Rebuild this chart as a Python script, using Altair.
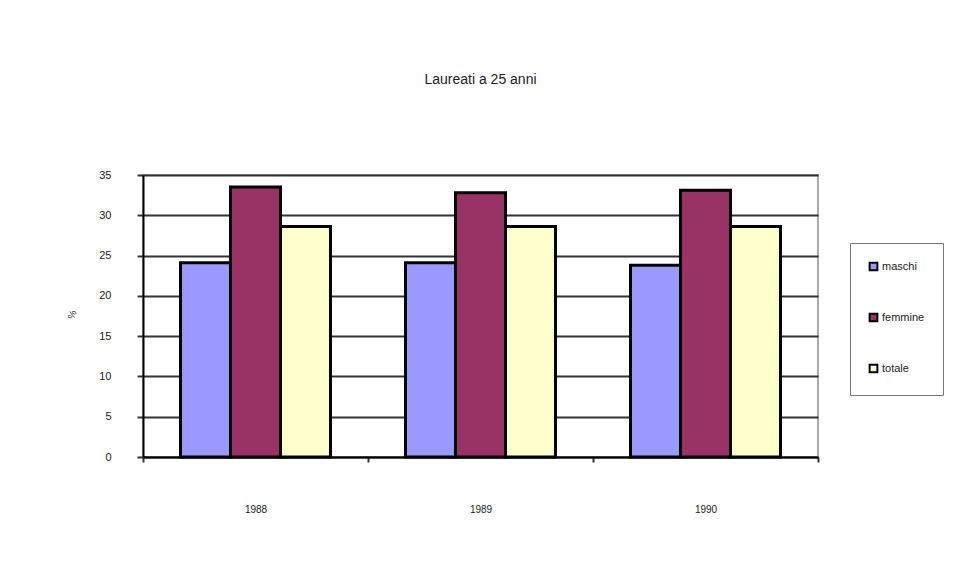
import altair as alt
import pandas as pd

years = ["1988", "1989", "1990"]
series = ["maschi", "femmine", "totale"]
maschi = [24.1, 24.1, 23.8]
femmine = [33.5, 32.8, 33.1]
totale = [28.6, 28.6, 28.6]
colors = ["#9999FF", "#993366", "#FFFFCC"]

rows = []
for i, y in enumerate(years):
    for s, vals in zip(series, [maschi, femmine, totale]):
        rows.append({"anno": y, "serie": s, "valore": vals[i]})
df = pd.DataFrame(rows)

FONT = "Liberation Sans"

chart = alt.Chart(df).mark_bar(stroke="black", strokeWidth=3).encode(
    x=alt.X("anno:N", sort=years, title=None,
            scale=alt.Scale(paddingInner=0, paddingOuter=0),
            axis=alt.Axis(labelAngle=0, labelPadding=42, tickBand="extent",
                          domainColor="black", domainWidth=2, tickColor="#333",
                          tickWidth=2, tickSize=5, labelFontSize=10,
                          labelColor="#222", labelFont=FONT, grid=False)),
    xOffset=alt.XOffset("serie:N", sort=series,
                        scale=alt.Scale(paddingInner=0, paddingOuter=0.75)),
    y=alt.Y("valore:Q", title="%",
            scale=alt.Scale(domain=[0, 35], nice=False),
            axis=alt.Axis(values=[0, 5, 10, 15, 20, 25, 30, 35], labelPadding=26,
                          tickSize=6, tickColor="#333", tickWidth=2,
                          domainColor="black", domainWidth=2,
                          gridColor="#333", gridWidth=2,
                          labelFontSize=11, labelColor="#222", labelFont=FONT,
                          titleFontSize=10, titleFontWeight="normal", titleColor="#444",
                          titleAngle=-70, titlePadding=22, titleFont=FONT)),
    color=alt.Color("serie:N", sort=series,
                    scale=alt.Scale(domain=series, range=colors),
                    legend=alt.Legend(title=None, orient="none", legendX=707, legendY=68,
                                      symbolType="square", symbolSize=60,
                                      symbolStrokeColor="black", symbolStrokeWidth=2,
                                      labelFontSize=11, labelFont=FONT, labelColor="#222",
                                      labelOffset=3,
                                      rowPadding=34, padding=18,
                                      strokeColor="#777", fillColor="white",
                                      labelLimit=80)),
).properties(
    width=675, height=282,
    title=alt.TitleParams("Laureati a 25 anni", fontSize=14, font=FONT,
                          fontWeight="normal", color="#222", offset=82),
    autosize=alt.AutoSizeParams(type="none"),
    padding={"left": 135, "top": 167, "right": 152, "bottom": 120},
).configure_view(stroke="#aaa", strokeWidth=2)

chart.save("out.html", embed_options={"renderer": "svg", "actions": False})
